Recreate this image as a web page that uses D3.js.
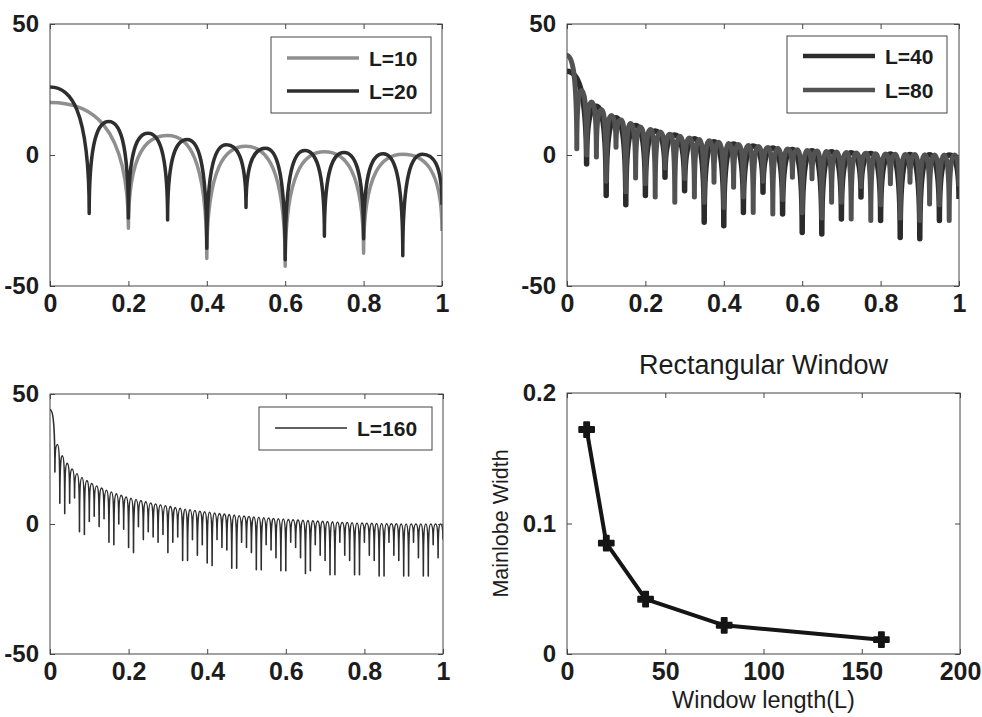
<!DOCTYPE html>
<html>
<head>
<meta charset="utf-8">
<script src="https://cdn.jsdelivr.net/npm/d3@7"></script>
<style>
  body { margin: 0; background: #fff; }
  svg text { font-family: "Liberation Sans", Arial, sans-serif; fill: #1c1c1c; }
</style>
</head>
<body>
<div id="chart"></div>
<script>
// shared tick values for the three magnitude plots
var freqTicks = [0, 0.2, 0.4, 0.6, 0.8, 1];
var dbTicks = [-50, 0, 50];

// dB level at each null (k-th null sits at k/n of the frequency axis) and at each lobe top
var nulls10 = [-28, -39.5, -42.5, -37.5, -29];
var peaks10 = [20, 7.4, 3.3, 1.2, 0.3];

var nulls20 = [-22.3, -24, -24.8, -35.6, -20, -40, -31, -32, -38.5, -19];
var peaks20 = [26, 12.8, 8.3, 5.9, 3.9, 2.6, 1.7, 1.0, 0.5, 0.3];

var nulls40 = [-3.4, -15.5, -19, -15.5, -8.5, -13.6, -25.7, -27, -21.9, -14.2,
  -22.5, -29.6, -30.2, -24.4, -16, -25, -31.5, -32, -25, -16.8];
var peaks40 = [32, 18.6, 14.2, 11.3, 9.2, 7.6, 6.2, 5.1, 4.2, 3.4,
  2.7, 2.1, 1.6, 1.2, 0.9, 0.6, 0.4, 0.2, 0.1, 0.0];

var nulls80 = [2.4, 0, -0.8, -10, 3, -14, -8.8, -11, -16, -5,
  -18, -9, -16, -18, -10.4, -20, -12.3, -16, -21.9, -10,
  -22.5, -17, -8.5, -22, -9.1, -24, -18, -18, -24.4, -12,
  -25, -19, -11, -24, -10.4, -25, -18.7, -19, -25, -12];
var peaks80 = [38, 24.6, 20.2, 17.3, 15.1, 13.4, 12.0, 10.7, 9.7, 8.8,
  7.9, 7.2, 6.5, 5.9, 5.4, 4.9, 4.4, 4.0, 3.6, 3.2,
  2.9, 2.6, 2.3, 2.0, 1.7, 1.5, 1.3, 1.1, 1.0, 0.8,
  0.7, 0.5, 0.4, 0.3, 0.2, 0.2, 0.1, 0.0, 0.0, 0.0];

var nulls160 = [20, 8, 4, 8, 10, -3, -4, 1, 3, -1,
  2, -7, -8, 0, -2, -9, -11, -1, -6, -3,
  -5, -7, -4, -11, -7, -5, -14, -14, -6, -12,
  -8, -15, -16, -6, -9, -10, -17, -17, -7, -9,
  -11, -17.6, -17.6, -8, -10, -13, -18, -18, -7, -9,
  -13, -19, -18, -8, -12, -14, -19.5, -19.5, -7, -12,
  -14, -19.5, -19.5, -7, -12, -14, -20, -20, -7, -12,
  -14, -20, -20, -7, -13, -20, -20, -8, -13, -6];
var peaks160 = [44, 30.6, 26.2, 23.3, 21.1, 19.3, 17.9, 16.7, 15.6, 14.6,
  13.8, 13.0, 12.3, 11.6, 11.0, 10.4, 9.9, 9.4, 9.0, 8.5,
  8.1, 7.7, 7.3, 7.0, 6.7, 6.3, 6.0, 5.7, 5.5, 5.2,
  4.9, 4.7, 4.5, 4.2, 4.0, 3.8, 3.6, 3.4, 3.2, 3.1,
  2.9, 2.7, 2.6, 2.4, 2.3, 2.1, 2.0, 1.9, 1.7, 1.6,
  1.5, 1.4, 1.3, 1.2, 1.1, 1.0, 0.9, 0.8, 0.7, 0.6,
  0.6, 0.5, 0.4, 0.4, 0.3, 0.3, 0.2, 0.2, 0.1, 0.1,
  0.1, 0, 0, 0, 0, 0, 0, 0, 0, 0];

// mainlobe width vs window length
var windowLengths = [10, 20, 40, 80, 160];
var mainlobeWidths = [0.172, 0.085, 0.042, 0.022, 0.011];
var lengthTicks = [0, 50, 100, 150, 200];
var widthTicks = [0, 0.1, 0.2];

var svg = d3.select("#chart").append("svg")
  .attr("width", 982)
  .attr("height", 717);

// panel boxes in page pixels
var panels = {
  tl: { left: 50, top: 24, width: 392, height: 262 },
  tr: { left: 567, top: 24, width: 392, height: 262 },
  bl: { left: 50, top: 394, width: 393, height: 260 },
  br: { left: 567, top: 393, width: 393, height: 261 }
};

// draws the frame, inward ticks on all four sides and the labels
function drawAxes(g, box, x, y, xTicks, yTicks) {
  var fmt = function (d) { return String(d); };
  var xAxis = g.append("g")
    .attr("transform", "translate(0," + box.height + ")")
    .call(d3.axisBottom(x).tickValues(xTicks).tickSize(-5).tickPadding(8).tickFormat(fmt));
  g.append("g")
    .call(d3.axisTop(x).tickValues(xTicks).tickSize(-5).tickFormat(""));
  var yAxis = g.append("g")
    .call(d3.axisLeft(y).tickValues(yTicks).tickSize(-5).tickPadding(11).tickFormat(fmt));
  g.append("g")
    .attr("transform", "translate(" + box.width + ",0)")
    .call(d3.axisRight(y).tickValues(yTicks).tickSize(-5).tickFormat(""));

  g.selectAll(".domain").remove();
  g.selectAll(".tick line").attr("stroke", "#444");
  g.selectAll(".tick text")
    .attr("fill", "#1c1c1c")
    .style("font-weight", "bold");
  xAxis.selectAll(".tick text").style("font-size", "25px");
  yAxis.selectAll(".tick text").style("font-size", "24px");

  g.append("rect")
    .attr("width", box.width)
    .attr("height", box.height)
    .attr("fill", "none")
    .attr("stroke", "#444")
    .attr("stroke-width", 1);
}

// builds the lobed magnitude curve: each lobe arches from null to top and falls back
function spectrumPath(x, y, peaks, nulls) {
  var n = nulls.length;
  var bin = d3.scaleLinear().domain([0, n]).range([0, 1]);
  var p = d3.path();
  p.moveTo(x(0), y(peaks[0]));
  for (var i = 0; i < n; i++) {
    var cx = i === 0 ? x(0) : x(bin(i + 0.5));
    var cy = y(peaks[i]);
    if (i > 0) {
      var ax = x(bin(i)), ay = y(nulls[i - 1]);
      p.bezierCurveTo(ax, cy + 0.15 * (ay - cy), cx + 0.5 * (ax - cx), cy, cx, cy);
    }
    var bx = x(bin(i + 1)), by = y(nulls[i]);
    p.bezierCurveTo(cx + 0.5 * (bx - cx), cy, bx, cy + 0.15 * (by - cy), bx, by);
  }
  return p.toString();
}

function drawLegend(g, box, legend, entries) {
  var lg = g.append("g")
    .attr("transform", "translate(" + (box.width - legend.right - legend.width) + "," + legend.top + ")");
  lg.append("rect")
    .attr("width", legend.width)
    .attr("height", legend.height)
    .attr("fill", "#fff")
    .attr("stroke", "#444");
  entries.forEach(function (e, i) {
    var ry = legend.rows[i];
    lg.append("line")
      .attr("x1", 16).attr("x2", 88)
      .attr("y1", ry).attr("y2", ry)
      .attr("stroke", e.color)
      .attr("stroke-width", e.legendWidth || e.width);
    lg.append("text")
      .attr("x", 98)
      .attr("y", ry)
      .attr("dy", "0.36em")
      .style("font-size", "21px")
      .style("font-weight", "bold")
      .text(e.label);
  });
}

function spectrumPanel(id, box, series, legend) {
  var g = svg.append("g")
    .attr("transform", "translate(" + box.left + "," + box.top + ")");
  var x = d3.scaleLinear().domain([0, 1]).range([0, box.width]);
  var y = d3.scaleLinear().domain([-50, 50]).range([box.height, 0]);

  g.append("clipPath").attr("id", "clip-" + id)
    .append("rect").attr("width", box.width).attr("height", box.height);

  var plot = g.append("g").attr("clip-path", "url(#clip-" + id + ")");
  series.forEach(function (s) {
    plot.append("path")
      .attr("d", spectrumPath(x, y, s.peaks, s.nulls))
      .attr("fill", "none")
      .attr("stroke", s.color)
      .attr("stroke-width", s.width)
      .attr("stroke-linejoin", "round");
  });

  drawAxes(g, box, x, y, freqTicks, dbTicks);
  drawLegend(g, box, legend, series);
}

spectrumPanel("tl", panels.tl, [
  { label: "L=10", peaks: peaks10, nulls: nulls10, color: "#8f8f8f", width: 3.5 },
  { label: "L=20", peaks: peaks20, nulls: nulls20, color: "#2e2e2e", width: 3.5 }
], { right: 11, top: 13, width: 160, height: 76, rows: [21, 54] });

spectrumPanel("tr", panels.tr, [
  { label: "L=40", peaks: peaks40, nulls: nulls40, color: "#2b2b2b", width: 5.5, legendWidth: 4.5 },
  { label: "L=80", peaks: peaks80, nulls: nulls80, color: "#525252", width: 5, legendWidth: 4.5 }
], { right: 12, top: 12, width: 160, height: 77, rows: [20, 54] });

spectrumPanel("bl", panels.bl, [
  { label: "L=160", peaks: peaks160, nulls: nulls160, color: "#2e2e2e", width: 1.6, legendWidth: 1.3 }
], { right: 11, top: 13, width: 173, height: 43, rows: [21] });

// mainlobe width panel
(function () {
  var box = panels.br;
  var g = svg.append("g")
    .attr("transform", "translate(" + box.left + "," + box.top + ")");
  var x = d3.scaleLinear().domain([0, 200]).range([0, box.width]);
  var y = d3.scaleLinear().domain([0, 0.2]).range([box.height, 0]);

  var pts = windowLengths.map(function (d, i) { return [d, mainlobeWidths[i]]; });

  g.append("path")
    .datum(pts)
    .attr("d", d3.line().x(function (d) { return x(d[0]); }).y(function (d) { return y(d[1]); }))
    .attr("fill", "none")
    .attr("stroke", "#151515")
    .attr("stroke-width", 4)
    .attr("stroke-linejoin", "round");

  g.selectAll(".marker")
    .data(pts)
    .enter()
    .append("path")
    .attr("class", "marker")
    .attr("transform", function (d) { return "translate(" + x(d[0]) + "," + y(d[1]) + ")"; })
    .attr("d", d3.symbol().type(d3.symbolCross).size(120))
    .attr("fill", "#151515")
    .attr("stroke", "#151515")
    .attr("stroke-width", 2)
    .attr("stroke-linejoin", "round");

  drawAxes(g, box, x, y, lengthTicks, widthTicks);

  g.append("text")
    .attr("x", box.width / 2)
    .attr("y", -19)
    .attr("text-anchor", "middle")
    .style("font-size", "27px")
    .text("Rectangular Window");

  g.append("text")
    .attr("x", box.width / 2)
    .attr("y", box.height + 54)
    .attr("text-anchor", "middle")
    .style("font-size", "23.5px")
    .text("Window length(L)");

  g.append("text")
    .attr("transform", "translate(-59," + (box.height / 2) + ") rotate(-90)")
    .attr("text-anchor", "middle")
    .style("font-size", "21.5px")
    .text("Mainlobe Width");
})();
</script>
</body>
</html>
